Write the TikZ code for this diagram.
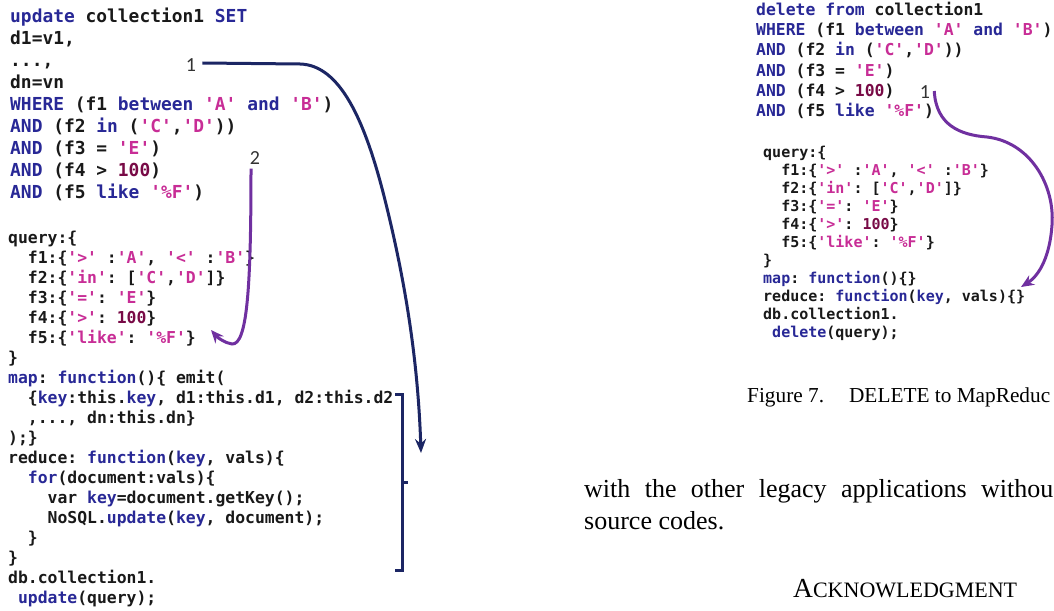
\documentclass[tikz,border=0pt]{standalone}
\usepackage{fontspec}
\setmonofont{DejaVu Sans Mono}
\newfontfamily\serifT{Liberation Serif}
\newfontfamily\lblfont{Carlito}
\usetikzlibrary{arrows.meta}
\definecolor{kwc}{RGB}{40,40,150}
\definecolor{stc}{RGB}{200,45,150}
\definecolor{nmc}{RGB}{120,10,70}
\definecolor{navyc}{RGB}{28,38,100}
\definecolor{purpc}{RGB}{112,48,160}
\newcommand\kw[1]{\textcolor{kwc}{#1}}
\newcommand\sq[1]{\textcolor{stc}{'#1'}}
\newcommand\nm[1]{\textcolor{nmc}{#1}}
\tikzset{
  cA/.style={anchor=base west, inner sep=0pt, text=black!90, font=\ttfamily\bfseries\fontsize{17.9}{20}\selectfont},
  cB/.style={anchor=base west, inner sep=0pt, text=black!90, font=\ttfamily\bfseries\fontsize{16.4}{18}\selectfont},
  cC/.style={anchor=base west, inner sep=0pt, text=black!90, font=\ttfamily\bfseries\fontsize{15}{17}\selectfont},
  lbl/.style={inner sep=1pt, text=black!80, font=\lblfont\fontsize{20}{22}\selectfont},
  serifnode/.style={anchor=base west, inner sep=0pt, text=black},
  navyarrow/.style={draw=navyc, line width=3pt, -{Stealth[length=14pt,width=11pt]}},
  purparrow/.style={draw=purpc, line width=3pt, -{Stealth[length=13pt,width=11pt]}},
  bracketline/.style={draw=navyc, line width=3pt}
}
\begin{document}
\begin{tikzpicture}[x=1pt,y=-1pt]
\useasboundingbox (0,0) rectangle (1054,610);
\clip (0,0) rectangle (1054,610);
\fill[white] (0,0) rectangle (1054,610);

% ---------- left: SQL ----------
\node[cA] (a1) at (10,23)    {\kw{update} collection1 \kw{SET}};
\node[cA] (a2) at (10,44.9)  {d1=v1,};
\node[cA] (a3) at (10,66.8)  {...,};
\node[cA] (a4) at (10,88.7)  {dn=vn};
\node[cA] (a5) at (10,110.6) {\kw{WHERE} (f1 \kw{between} \sq{A} \kw{and} \sq{B})};
\node[cA] (a6) at (10,132.5) {\kw{AND} (f2 \kw{in} (\sq{C},\sq{D}))};
\node[cA] (a7) at (10,154.4) {\kw{AND} (f3 = \sq{E})};
\node[cA] (a8) at (10,176.3) {\kw{AND} (f4 > \nm{100})};
\node[cA] (a9) at (10,198.2) {\kw{AND} (f5 \kw{like} \sq{\%F})};

% ---------- left: MapReduce ----------
\node[cB] (b1)  at (8,243.5) {query:\{};
\node[cB] (b2)  at (8,263.5) {\phantom{xx}f1:\{\sq{>} :\sq{A}, \sq{<} :\sq{B}\}};
\node[cB] (b3)  at (8,283.5) {\phantom{xx}f2:\{\sq{in}: [\sq{C},\sq{D}]\}};
\node[cB] (b4)  at (8,303.5) {\phantom{xx}f3:\{\sq{=}: \sq{E}\}};
\node[cB] (b5)  at (8,323.5) {\phantom{xx}f4:\{\sq{>}: \nm{100}\}};
\node[cB] (b6)  at (8,343.5) {\phantom{xx}f5:\{\sq{like}: \sq{\%F}\}};
\node[cB] (b7)  at (8,363.5) {\}};
\node[cB] (b8)  at (8,383.5) {\kw{map}: \kw{function}()\{ emit(};
\node[cB] (b9)  at (8,403.5) {\phantom{xx}\{\kw{key}:this.\kw{key}, d1:this.d1, d2:this.d2};
\node[cB] (b10) at (8,423.5) {\phantom{xx},..., dn:this.dn\}};
\node[cB] (b11) at (8,443.5) {);\}};
\node[cB] (b12) at (8,463.5) {reduce: \kw{function}(\kw{key}, vals)\{};
\node[cB] (b13) at (8,483.5) {\phantom{xx}\kw{for}(document:vals)\{};
\node[cB] (b14) at (8,503.5) {\phantom{xxxx}var \kw{key}=document.getKey();};
\node[cB] (b15) at (8,523.5) {\phantom{xxxx}NoSQL.\kw{update}(\kw{key}, document);};
\node[cB] (b16) at (8,543.5) {\phantom{xx}\}};
\node[cB] (b17) at (8,563.5) {\}};
\node[cB] (b18) at (8,583.5) {db.collection1.};
\node[cB] (b19) at (8,603.5) {\phantom{x}\kw{update}(query);};

% ---------- right: SQL ----------
\node[cB] (c1) at (756,15.5)  {\kw{delete} \kw{from} collection1};
\node[cB] (c2) at (756,35.7)  {\kw{WHERE} (f1 \kw{between} \sq{A} \kw{and} \sq{B})};
\node[cB] (c3) at (756,55.9)  {\kw{AND} (f2 \kw{in} (\sq{C},\sq{D}))};
\node[cB] (c4) at (756,76.1)  {\kw{AND} (f3 = \sq{E})};
\node[cB] (c5) at (756,96.3)  {\kw{AND} (f4 > \nm{100})};
\node[cB] (c6) at (756,116.5) {\kw{AND} (f5 \kw{like} \sq{\%F})};

% ---------- right: MapReduce ----------
\node[cC] (d1)  at (763,157) {query:\{};
\node[cC] (d2)  at (763,175) {\phantom{xx}f1:\{\sq{>} :\sq{A}, \sq{<} :\sq{B}\}};
\node[cC] (d3)  at (763,193) {\phantom{xx}f2:\{\sq{in}: [\sq{C},\sq{D}]\}};
\node[cC] (d4)  at (763,211) {\phantom{xx}f3:\{\sq{=}: \sq{E}\}};
\node[cC] (d5)  at (763,229) {\phantom{xx}f4:\{\sq{>}: \nm{100}\}};
\node[cC] (d6)  at (763,247) {\phantom{xx}f5:\{\sq{like}: \sq{\%F}\}};
\node[cC] (d7)  at (763,265) {\}};
\node[cC] (d8)  at (763,283) {\kw{map}: \kw{function}()\{\}};
\node[cC] (d9)  at (763,301) {reduce: \kw{function}(\kw{key}, vals)\{\}};
\node[cC] (d10) at (763,319) {db.collection1.};
\node[cC] (d11) at (763,337) {\phantom{x}\kw{delete}(query);};

% ---------- paper text ----------
\node[serifnode, font=\serifT\fontsize{21.3}{24}\selectfont] (cap) at (747,402)
  {Figure 7.\hspace{25pt}DELETE to MapReduc};
\node[serifnode, font=\serifT\fontsize{26}{30}\selectfont] (body1) at (584,497)
  {\makebox[469pt][s]{with the other legacy applications withou}};
\node[serifnode, font=\serifT\fontsize{26}{30}\selectfont] (body2) at (584,529)
  {source codes.};
\node[serifnode, font=\serifT] (ack) at (793,597)
  {{\fontsize{27.5}{31}\selectfont A}{\fontsize{22}{26}\selectfont CKNOWLEDGMENT}};

% ---------- labels and arrows ----------
\node[lbl] (n1) at (191,65) {1};
\node[lbl] (n2) at (255,158) {2};
\node[lbl] (n3) at (925,92) {1};
\coordinate (t1) at (421,453);
\coordinate (t2) at (211,330);
\coordinate (t3) at (1021,287);

\draw[navyarrow] ([xshift=5pt,yshift=2pt]n1.east) -- (300,64)
  .. controls (340,65) and (365,120) .. (385,200)
  .. controls (405,280) and (418,360) .. (t1);

\draw[purparrow] ([xshift=-4pt,yshift=-3pt]n2.south)
  .. controls (251,290) and (247,345) .. (232,344)
  .. controls (225,343) and (218,338) .. (t2);

\draw[purparrow] ([xshift=3pt,yshift=1pt]n3.east)
  .. controls (936,125) and (960,135) .. (987,137)
  .. controls (1030,142) and (1055,185) .. (1052,225)
  .. controls (1050,255) and (1040,275) .. (t3);

% bracket
\draw[bracketline] (395,394) -- (402,394) -- (402,570) -- (395,570);
\draw[bracketline] (402,482) -- (408,482);
\end{tikzpicture}
\end{document}
